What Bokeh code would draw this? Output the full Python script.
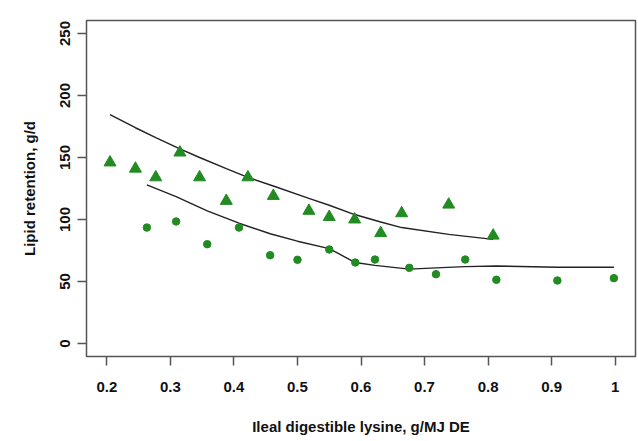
from bokeh.plotting import figure
from bokeh.models import Range1d, FixedTicker
from bokeh.embed import file_html
from bokeh.resources import INLINE

# Triangle series (observed) and its fitted line
tri_x = [0.205, 0.245, 0.277, 0.315, 0.346, 0.388, 0.422, 0.462, 0.518, 0.550, 0.590, 0.631, 0.664, 0.738, 0.808]
tri_y = [146, 141, 134, 154, 134, 115, 134, 119, 107, 102, 100, 89, 105, 112, 87]
tri_fit = [184.5, 174, 166, 157, 150, 141, 134, 127, 117, 111.5, 104, 98, 93.5, 88, 84]

# Circle series (observed) and its fitted line
circ_x = [0.263, 0.309, 0.358, 0.408, 0.457, 0.500, 0.550, 0.591, 0.622, 0.676, 0.718, 0.764, 0.813, 0.909, 0.998]
circ_y = [93.5, 98.4, 80.1, 93.5, 71.2, 67.5, 75.8, 65.3, 67.7, 61, 55.9, 67.7, 51.4, 50.8, 52.7]
circ_fit = [128, 118.5, 107, 97, 88.5, 82.5, 76.5, 65.3, 63, 60, 61, 62, 62.5, 61.5, 61.5]

x_ticks = [0.2, 0.3, 0.4, 0.5, 0.6, 0.7, 0.8, 0.9, 1.0]
x_tick_labels = ["0.2", "0.3", "0.4", "0.5", "0.6", "0.7", "0.8", "0.9", "1"]
y_ticks = [0, 50, 100, 150, 200, 250]
y_tick_labels = ["0", "50", "100", "150", "200", "250"]
x_title = "Ileal digestible lysine, g/MJ DE"
y_title = "Lipid retention, g/d"

green = "#228B22"
font = "Liberation Sans"
txt_color = "#111111"
fs = "15px"

p = figure(width=638, height=441, output_backend="svg", toolbar_location=None,
           x_range=Range1d(0.168, 1.032), y_range=Range1d(-10.5, 260.5),
           min_border_left=86, min_border_right=3, min_border_top=20, min_border_bottom=85)
p.background_fill_color = "white"
p.border_fill_color = "white"
p.grid.visible = False
p.outline_line_color = "#555555"
p.outline_line_width = 1.5

p.line(tri_x, tri_fit, line_color="#222222", line_width=1.4)
p.line(circ_x, circ_fit, line_color="#222222", line_width=1.4)
p.scatter(tri_x, tri_y, marker="triangle", size=12, fill_color=green, line_color=green)
p.scatter(circ_x, circ_y, marker="circle", size=7.5, fill_color=green, line_color=green)

for ax in (p.xaxis[0], p.yaxis[0]):
    ax.axis_line_color = None
    ax.major_tick_line_color = "#555555"
    ax.major_tick_line_width = 1.5
    ax.major_tick_out = 9
    ax.major_tick_in = 0
    ax.minor_tick_line_color = None
    ax.major_label_text_font = font
    ax.major_label_text_font_style = "bold"
    ax.major_label_text_font_size = fs
    ax.major_label_text_color = txt_color
    ax.axis_label_text_font = font
    ax.axis_label_text_font_style = "bold"
    ax.axis_label_text_font_size = fs
    ax.axis_label_text_color = txt_color

p.xaxis[0].ticker = FixedTicker(ticks=x_ticks)
p.xaxis[0].major_label_overrides = {t: l for t, l in zip(x_ticks, x_tick_labels)}
p.xaxis[0].major_label_standoff = 16
p.xaxis[0].axis_label = x_title
p.xaxis[0].axis_label_standoff = 23

p.yaxis[0].ticker = FixedTicker(ticks=y_ticks)
p.yaxis[0].major_label_overrides = {t: l for t, l in zip(y_ticks, y_tick_labels)}
p.yaxis[0].major_label_orientation = "vertical"
p.yaxis[0].major_label_standoff = 7
p.yaxis[0].axis_label = y_title
p.yaxis[0].axis_label_standoff = 20

open("out.html", "w").write(file_html(p, INLINE))
